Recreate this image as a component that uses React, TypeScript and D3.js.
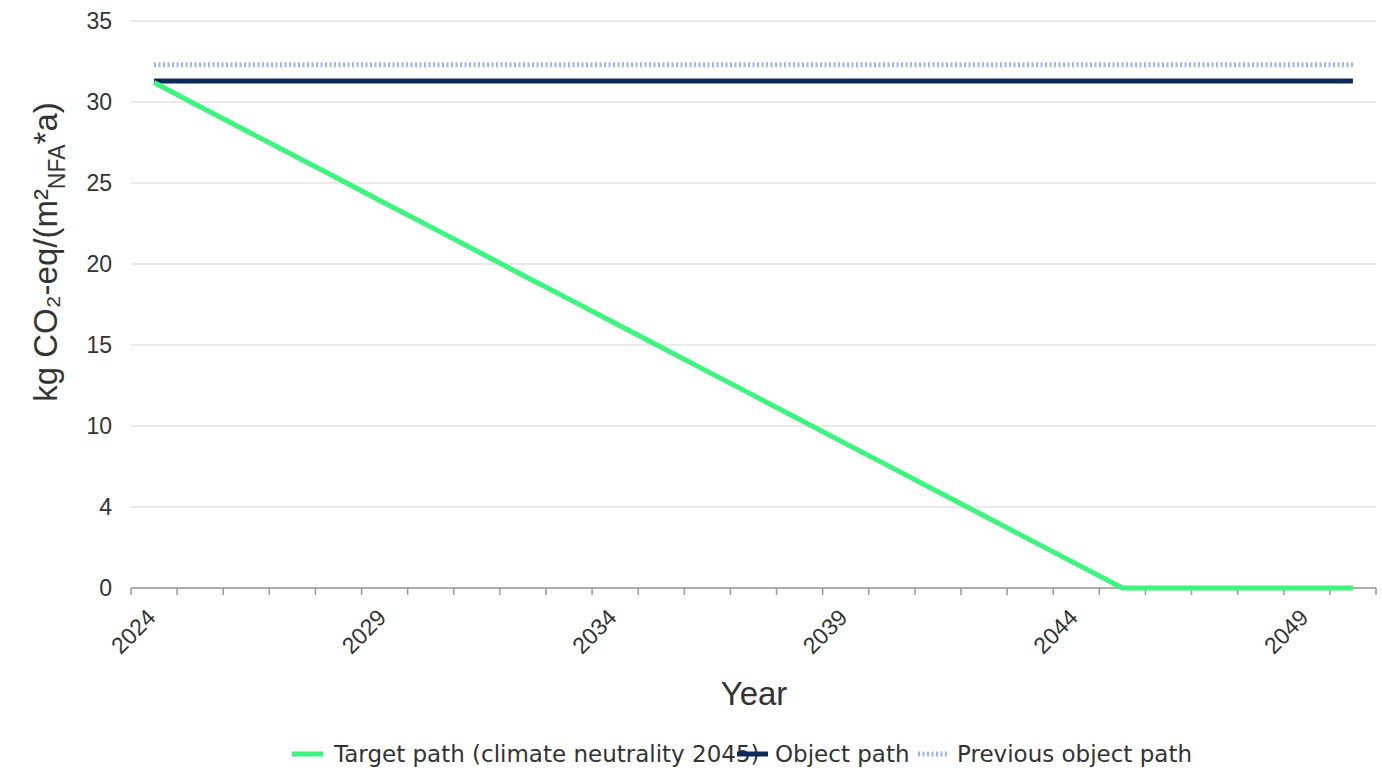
import { useEffect, useRef } from "react";
import * as d3 from "d3";

const years = d3.range(2024, 2051).map(String);
const targetPath = [
  31.2, 29.71, 28.23, 26.74, 25.26, 23.77, 22.29, 20.8, 19.31, 17.83, 16.34,
  14.86, 13.37, 11.89, 10.4, 8.91, 7.43, 5.94, 4.46, 2.97, 1.49, 0, 0, 0, 0, 0,
  0,
];
const objectPath = years.map(() => 31.3);
const previousObjectPath = years.map(() => 32.3);
const yTicks = [0, 5, 10, 15, 20, 25, 30, 35];
const yTickLabels = ["0", "4", "10", "15", "20", "25", "30", "35"];
const xLabelYears = ["2024", "2029", "2034", "2039", "2044", "2049"];

const W = 1382;
const H = 774;
const margin = { top: 21, right: 6, bottom: 186, left: 131 };
const font = "Liberation Sans, Arial, sans-serif";

const App = () => {
  const ref = useRef(null);

  useEffect(() => {
    const svg = d3.select(ref.current);
    svg.selectAll("*").remove();

    const x = d3
      .scaleBand()
      .domain(years)
      .range([margin.left, W - margin.right]);
    const y = d3
      .scaleLinear()
      .domain([0, 35])
      .range([H - margin.bottom, margin.top]);
    const cx = (d) => x(d) + x.bandwidth() / 2;

    // grid
    svg
      .append("g")
      .selectAll("line")
      .data(yTicks)
      .join("line")
      .attr("x1", margin.left)
      .attr("x2", W - margin.right)
      .attr("y1", (d) => y(d))
      .attr("y2", (d) => y(d))
      .attr("stroke", "#e3e3e3")
      .attr("stroke-width", 1.5);

    svg
      .append("g")
      .selectAll("text")
      .data(yTicks)
      .join("text")
      .attr("x", margin.left - 19)
      .attr("y", (d) => y(d))
      .attr("dy", "0.35em")
      .attr("text-anchor", "end")
      .attr("font-family", font)
      .attr("font-size", 23)
      .attr("fill", "#333")
      .text((d, i) => yTickLabels[i]);

    // x axis
    const xAxis = svg
      .append("g")
      .attr("transform", `translate(0,${y(0)})`);
    xAxis
      .append("line")
      .attr("x1", margin.left)
      .attr("x2", W - margin.right)
      .attr("stroke", "#999")
      .attr("stroke-width", 1.5);
    xAxis
      .selectAll("line.tick")
      .data([...years, "end"])
      .join("line")
      .attr("class", "tick")
      .attr("x1", (d) => (d === "end" ? W - margin.right : x(d)))
      .attr("x2", (d) => (d === "end" ? W - margin.right : x(d)))
      .attr("y1", 0)
      .attr("y2", 7)
      .attr("stroke", "#999")
      .attr("stroke-width", 1.5);
    xAxis
      .selectAll("text")
      .data(xLabelYears)
      .join("text")
      .attr("transform", (d) => `translate(${cx(d) + 3},${31}) rotate(-45)`)
      .attr("text-anchor", "end")
      .attr("font-family", font)
      .attr("font-size", 23)
      .attr("fill", "#333")
      .text((d) => d);

    // titles
    svg
      .append("text")
      .attr("x", 754)
      .attr("y", 705)
      .attr("text-anchor", "middle")
      .attr("font-family", font)
      .attr("font-size", 33)
      .attr("fill", "#333")
      .text("Year");

    const yTitle = svg
      .append("text")
      .attr("transform", "translate(57,252) rotate(-90)")
      .attr("text-anchor", "middle")
      .attr("font-family", font)
      .attr("font-size", 33)
      .attr("fill", "#333");
    yTitle.append("tspan").text("kg CO₂-eq/(m²");
    yTitle
      .append("tspan")
      .attr("dy", 8)
      .attr("font-size", 23)
      .text("NFA");
    yTitle.append("tspan").attr("dy", -8).text("*a)");

    const line = d3
      .line()
      .x((d, i) => cx(years[i]))
      .y((d) => y(d));

    svg
      .append("path")
      .datum(previousObjectPath)
      .attr("d", line)
      .attr("fill", "none")
      .attr("stroke", "#9db5e8")
      .attr("stroke-width", 5)
      .attr("stroke-dasharray", "2,2.5");
    svg
      .append("path")
      .datum(objectPath)
      .attr("d", line)
      .attr("fill", "none")
      .attr("stroke", "#0b2a59")
      .attr("stroke-width", 5);
    svg
      .append("path")
      .datum(targetPath)
      .attr("d", line)
      .attr("fill", "none")
      .attr("stroke", "#3bf57e")
      .attr("stroke-width", 5);

    // legend
    const legend = [
      { label: "Target path (climate neutrality 2045)", color: "#3bf57e", dash: null, x: 292, tx: 42 },
      { label: "Object path", color: "#0b2a59", dash: null, x: 737, tx: 38 },
      { label: "Previous object path", color: "#9db5e8", dash: "2,2.5", x: 918, tx: 39 },
    ];
    const lg = svg
      .append("g")
      .selectAll("g")
      .data(legend)
      .join("g")
      .attr("transform", (d) => `translate(${d.x},754)`);
    lg.append("line")
      .attr("x1", 0)
      .attr("x2", 31)
      .attr("stroke", (d) => d.color)
      .attr("stroke-width", 5)
      .attr("stroke-dasharray", (d) => d.dash);
    lg.append("text")
      .attr("x", (d) => d.tx)
      .attr("dy", "0.35em")
      .attr("font-family", "DejaVu Sans, sans-serif")
      .attr("font-size", 23)
      .attr("fill", "#333")
      .text((d) => d.label);
  }, []);

  return (
    <svg
      ref={ref}
      width={W}
      height={H}
      style={{ position: "absolute", left: 0, top: 0, background: "#fff" }}
    ></svg>
  );
};

export default App;
